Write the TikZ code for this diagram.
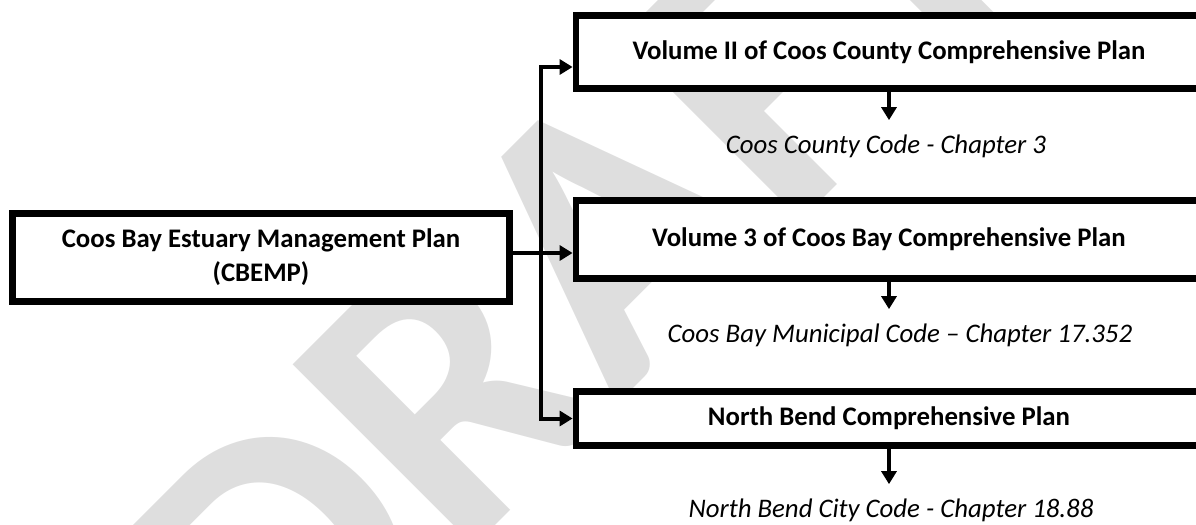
\documentclass[tikz,border=0pt]{standalone}
\usepackage{fontspec}
\setmainfont{Carlito}
\usetikzlibrary{arrows.meta}
\definecolor{wmgray}{RGB}{222,222,222}
\tikzset{
  plan/.style={draw=black,line width=3.4pt,fill=white,inner sep=0pt,align=center,
    font=\bfseries\fontsize{13.4}{17}\selectfont},
  code/.style={inner sep=0pt,font=\itshape\fontsize{13.4}{17}\selectfont},
  link/.style={draw=black,line width=2pt},
}
\begin{document}
\begin{tikzpicture}[x=0.5pt,y=-0.5pt,>={Triangle[length=6.5pt,width=7.5pt]},line join=miter]
\useasboundingbox (0,0) rectangle (1196,525);
%%
\node (draft) at (577,263) [rotate=45,text=wmgray,inner sep=0pt,font=\bfseries\fontsize{198}{198}\selectfont] {DRAFT};
%%
\node (cbemp) at (261,257.5) [plan,minimum width=248.6pt,minimum height=44pt] {Coos Bay Estuary Management Plan\\(CBEMP)};
\node (vol2) at (889,52) [plan,minimum width=313pt,minimum height=36.6pt] {Volume II of Coos County Comprehensive Plan};
\node (vol3) at (889,239.5) [plan,minimum width=313pt,minimum height=39pt] {Volume 3 of Coos Bay Comprehensive Plan};
\node (nbplan) at (889,418.5) [plan,minimum width=313pt,minimum height=27pt] {North Bend Comprehensive Plan};
\node (cccode) at (886,146) [code] {Coos County Code - Chapter 3};
\node (cbcode) at (900,335) [code] {Coos Bay Municipal Code -- Chapter 17.352};
\node (nbcode) at (891,510) [code] {North Bend City Code - Chapter 18.88};
\coordinate (split) at (541,253);
%%
\draw [link,->] (cbemp.east |- split) -- (vol3.west |- split);
\draw [link,<->] ([yshift=-7.5pt]vol2.west) -| (split) |- (nbplan.west);
\draw [link,->,shorten >=7pt] (vol2.south) -- (vol2.south |- cccode.north);
\draw [link,->,shorten >=7pt] (vol3.south) -- (vol3.south |- cbcode.north);
\draw [link,->,shorten >=7pt] (nbplan.south) -- (nbplan.south |- nbcode.north);
%
\end{tikzpicture}
\end{document}
